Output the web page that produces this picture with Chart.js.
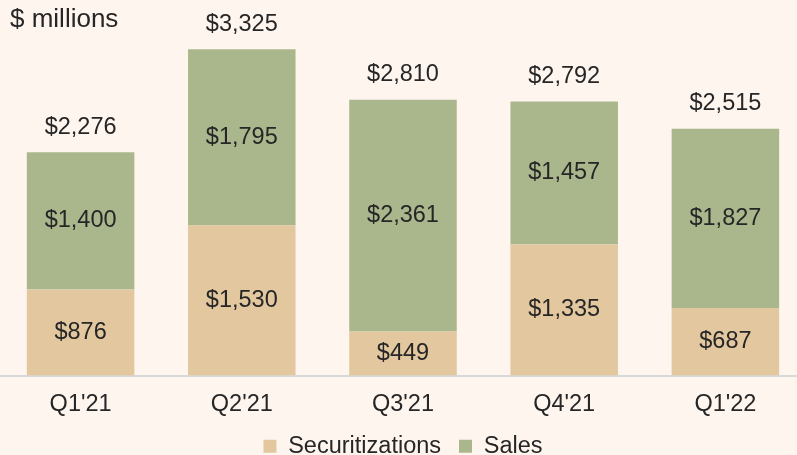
<!DOCTYPE html>
<html>
<head>
<meta charset="utf-8">
<style>
  html, body { margin: 0; padding: 0; background: #FEF5EF; overflow: hidden; }
  #wrap { width: 806px; height: 455px; }
</style>
<script src="https://cdn.jsdelivr.net/npm/chart.js@4"></script>
</head>
<body>
<div id="wrap"><canvas id="c" width="806" height="455"></canvas></div>
<script>
const categories = ["Q1'21", "Q2'21", "Q3'21", "Q4'21", "Q1'22"];
const securitizations = [876, 1530, 449, 1335, 687];
const sales = [1400, 1795, 2361, 1457, 1827];
const totals = [2276, 3325, 2810, 2792, 2515];
const unitLabel = '$ millions';

const TXT = '#262626';
const FONT = '"Liberation Sans", Arial, sans-serif';

function money(v) { return '$' + v.toLocaleString('en-US'); }

const labelPlugin = {
  id: 'labels',
  afterDatasetsDraw(chart) {
    const ctx = chart.ctx;
    ctx.save();
    ctx.fillStyle = TXT;
    ctx.font = '23.5px ' + FONT;
    ctx.textAlign = 'center';
    ctx.textBaseline = 'middle';
    chart.data.datasets.forEach((ds, di) => {
      const meta = chart.getDatasetMeta(di);
      meta.data.forEach((bar, i) => {
        const top = Math.min(bar.y, bar.base), bot = Math.max(bar.y, bar.base);
        ctx.fillText(money(ds.data[i]), bar.x, (top + bot) / 2);
      });
    });
    const lastMeta = chart.getDatasetMeta(chart.data.datasets.length - 1);
    lastMeta.data.forEach((bar, i) => {
      ctx.fillText(money(totals[i]), bar.x, bar.y - 25);
    });
    ctx.textAlign = 'left';
    ctx.font = '26px ' + FONT;
    ctx.fillText(unitLabel, 10, 20);
    ctx.restore();
  }
};

new Chart(document.getElementById('c'), {
  type: 'bar',
  data: {
    labels: categories,
    datasets: [
      { label: 'Securitizations', data: securitizations, backgroundColor: '#E2C79F', borderWidth: 0 },
      { label: 'Sales', data: sales, backgroundColor: '#AAB78C', borderWidth: 0 }
    ]
  },
  options: {
    responsive: false,
    devicePixelRatio: 1,
    animation: false,
    layout: { padding: { top: 32, left: 0, right: 0, bottom: -13 } },
    categoryPercentage: 0.667,
    barPercentage: 1,
    scales: {
      x: {
        stacked: true,
        grid: { display: false },
        border: { display: true, color: '#D9D9D9', width: 2 },
        ticks: { color: TXT, font: { family: FONT, size: 23.5 }, padding: 7 },
        afterFit(scale) { scale.height = 41; }
      },
      y: {
        stacked: true,
        display: false,
        min: 0,
        max: 3500
      }
    },
    plugins: {
      legend: {
        position: 'bottom',
        labels: {
          color: TXT,
          font: { family: FONT, size: 23.5 },
          boxWidth: 13,
          boxHeight: 13,
          padding: 18
        }
      },
      tooltip: { enabled: false }
    }
  },
  plugins: [labelPlugin]
});
</script>
</body>
</html>
